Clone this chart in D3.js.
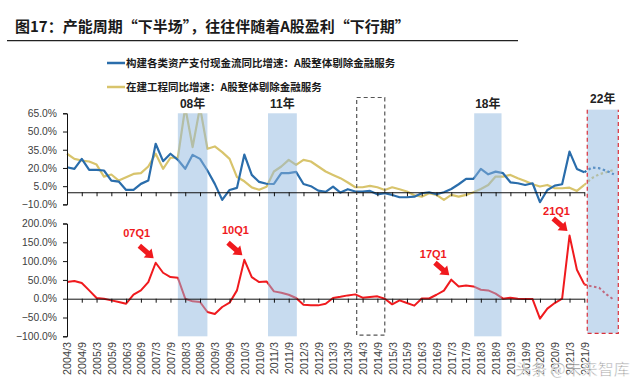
<!DOCTYPE html>
<html>
<head>
<meta charset="utf-8">
<script src="https://cdn.jsdelivr.net/npm/d3@7"></script>
<style>
  body { margin: 0; background: #fff; }
  svg { display: block; }
</style>
</head>
<body>
<div id="chart"></div>
<script>

// axis labels, one every second quarter
const tickLabels = ["2004/3","2004/9","2005/3","2005/9","2006/3","2006/9","2007/3","2007/9",
    "2008/3","2008/9","2009/3","2009/9","2010/3","2010/9","2011/3","2011/9","2012/3","2012/9",
    "2013/3","2013/9","2014/3","2014/9","2015/3","2015/9","2016/3","2016/9","2017/3","2017/9",
    "2018/3","2018/9","2019/3","2019/9","2020/3","2020/9","2021/3","2021/9"];

// quarterly series, 2004Q1 .. 2021Q3 (%)
const capexGrowth = [20.6, 19.3, 27.5, 18.4, 18.4, 17.9, 9.6, 8.8, 1.9, 1.9,
    6.9, 9.6, 39.9, 25.6, 31.7, 26.7, 19.3, 30.8, 27.5, 17.9,
    6.9, -6.3, 1.9, 3.6, 31.0, 14.3, 8.5, 7.0, 6.8, 15.7,
    15.7, 16.8, 6.8, 5.0, 1.3, 0.3, 4.7, -0.3, 2.5, 0.6,
    0.6, 1.1, -1.7, -0.8, -2.2, -4.1, -4.1, -3.6, -0.8, 0,
    -1.6, 0, 2.7, 6.6, 11.0, 11.0, 19.2, 14.8, 17.0, 15.7,
    8.2, 7.4, 6.0, 7.4, -8.2, 1.9, 5.5, 6.6, 33.5, 19.2, 16.5];

const cipGrowth = [31.7, 27.5, 26.1, 25.3, 22.8, 12.9, 14.6, 9.6, 12.4, 15.1,
    15.7, 21.2, 31.7, 19.3, 28.4, 28.4, 70, 37.2, 70, 35.8,
    37.7, 33.0, 27.5, 12.5, 9.0, 4.0, 2.0, 4.5, 17.1, 21.2,
    26.7, 22.6, 26.7, 25.3, 21.2, 17.1, 14.3, 11.6, 8.0, 4.1,
    4.1, 5.2, 4.1, 1.9, 4.1, 2.5, 0.6, -2.5, -3.6, -0.8,
    -2.2, -6.3, -2.2, -3.6, -2.2, 0, 2.7, 6.0, 12.9, 12.9,
    14.3, 11.5, 9.3, 6.6, 4.7, 6.0, 3.3, 3.3, 3.8, 1.1, 6.0];

const profitGrowth = [44.2, 46.9, 41.6, 22.1, 1.8, 0, -4.4, -8.8, -13.3, 10.6,
    22.1, 44.2, 95.6, 69.0, 57.5, 55.8, 0, -7.1, -8.8, -35.4,
    -40.7, -22.1, -10.6, 22.1, 103.5, 57.5, 44.2, 46.0, 19.5, 15.9,
    10.6, 1.8, -15.9, -17.7, -17.7, -13.3, 2.0, 5.0, 8.8, 11.5,
    2.7, 4.4, 6.2, 0, -15.0, -4.4, -11.5, -18.5, 0.5, 0.5,
    10.5, 21.5, 50.6, 32.7, 35.4, 32.7, 23.9, 22.1, 13.3, 0,
    2.7, 0, -0.9, -0.9, -53.1, -26.5, -11.5, 0, 168, 77, 38];

// forecast, 2021Q3 .. 2022Q3
const forecastQuarters = [70, 71, 72, 73, 74];
const capexForecast = [16.5, 20.3, 19.8, 17.6, 14.8];
const cipForecast = [6.0, 11.5, 14.8, 16.5, 18.4];
const profitForecast = [38, 32.7, 29.2, 11.5, -2.7];

const topTicks = [65, 50, 35, 20, 5, -10];
const bottomTicks = [200, 150, 100, 50, 0, -50, -100];

// shaded periods, in quarter index
const cycleBands = [
    {label: "08年", from: 15, to: 19},
    {label: "11年", from: 27.2, to: 31.1},
    {label: "18年", from: 55.1, to: 58.8}
];
const forecastBand = {label: "22年", from: 70.4, to: 74.6};
const dashedBox = {from: 39.2, to: 43};

const peaks = [
    {label: "07Q1", q: 12, dx: -19, dy: -30},
    {label: "10Q1", q: 24, dx: -9, dy: -30},
    {label: "17Q1", q: 52, dx: -18, dy: -26},
    {label: "21Q1", q: 68, dx: -13, dy: -24}
];

const blue = "#2a6dab", yellow = "#d8c46c", red = "#f01a1e";
const latin = "'Liberation Sans', Arial, sans-serif";
const cjk = "'Noto Sans CJK SC', sans-serif";

function main() {

    const width = 640, height = 388;

    const svg = d3.select("#chart")
        .append("svg")
        .attr("width", width)
        .attr("height", height);

    // scales
    const x = d3.scaleLinear().domain([0, 70]).range([67, 584.3]);
    const yTop = d3.scaleLinear().domain([-10, 65]).range([204.4, 113.3]);
    const yBot = d3.scaleLinear().domain([-100, 200]).range([336.3, 223.5]);

    // title
    svg.append("text")
        .attr("x", 15)
        .attr("y", 32)
        .attr("font-family", cjk)
        .attr("font-size", "15px")
        .attr("font-weight", "bold")
        .attr("fill", "#1a1a1a")
        .text("图17：产能周期“下半场”，往往伴随着A股盈利“下行期”");

    svg.append("line")
        .attr("x1", 7).attr("x2", 518)
        .attr("y1", 40.7).attr("y2", 40.7)
        .attr("stroke", "#222")
        .attr("stroke-width", 1.3);

    // legend
    const legend = [
        {color: blue, text: "构建各类资产支付现金流同比增速：A股整体剔除金融服务", y: 63},
        {color: yellow, text: "在建工程同比增速：A股整体剔除金融服务", y: 87}
    ];
    legend.forEach(function(d) {
        svg.append("line")
            .attr("x1", 107).attr("x2", 125)
            .attr("y1", d.y).attr("y2", d.y)
            .attr("stroke", d.color)
            .attr("stroke-width", 2.5);
        svg.append("text")
            .attr("x", 126)
            .attr("y", d.y)
            .attr("dy", "0.36em")
            .attr("font-family", cjk)
            .attr("font-size", "10.5px")
            .attr("font-weight", "bold")
            .attr("fill", "#1a1a1a")
            .text(d.text);
    });

    // clip for the upper panel (cip goes off the top in 2008)
    svg.append("clipPath")
        .attr("id", "topclip")
        .append("rect")
        .attr("x", 60).attr("width", 570)
        .attr("y", yTop(65)).attr("height", yTop(-10) - yTop(65));

    const top = svg.append("g").attr("clip-path", "url(#topclip)");

    const lineTop = d3.line().x((d, i) => x(i)).y(d => yTop(d));
    const lineBot = d3.line().x((d, i) => x(i)).y(d => yBot(d));
    const fcTop = d3.line().x((d, i) => x(forecastQuarters[i])).y(d => yTop(d));
    const fcBot = d3.line().x((d, i) => x(forecastQuarters[i])).y(d => yBot(d));

    top.append("path")
        .datum(cipGrowth)
        .attr("fill", "none")
        .attr("stroke", yellow)
        .attr("stroke-width", 2.2)
        .attr("stroke-linejoin", "round")
        .attr("d", lineTop);

    top.append("path")
        .datum(capexGrowth)
        .attr("fill", "none")
        .attr("stroke", blue)
        .attr("stroke-width", 2.2)
        .attr("stroke-linejoin", "round")
        .attr("d", lineTop);

    top.append("path")
        .datum(cipForecast)
        .attr("fill", "none")
        .attr("stroke", yellow)
        .attr("stroke-width", 2.2)
        .attr("stroke-dasharray", "2.5,2.5")
        .attr("d", fcTop);

    top.append("path")
        .datum(capexForecast)
        .attr("fill", "none")
        .attr("stroke", blue)
        .attr("stroke-width", 2.2)
        .attr("stroke-dasharray", "2.5,2.5")
        .attr("d", fcTop);

    svg.append("path")
        .datum(profitGrowth)
        .attr("fill", "none")
        .attr("stroke", red)
        .attr("stroke-width", 2)
        .attr("stroke-linejoin", "round")
        .attr("d", lineBot);

    svg.append("path")
        .datum(profitForecast)
        .attr("fill", "none")
        .attr("stroke", red)
        .attr("stroke-width", 2)
        .attr("stroke-dasharray", "2.5,2.5")
        .attr("d", fcBot);

    // shaded periods drawn over the lines, half transparent
    svg.selectAll(".band")
        .data(cycleBands)
        .join("rect")
        .attr("class", "band")
        .attr("x", d => x(d.from))
        .attr("width", d => x(d.to) - x(d.from))
        .attr("y", yTop(65))
        .attr("height", yBot(-100) - yTop(65))
        .attr("fill", "#8fb8e0")
        .attr("fill-opacity", 0.5);

    svg.selectAll(".bandlabel")
        .data(cycleBands)
        .join("text")
        .attr("class", "bandlabel")
        .attr("x", d => (x(d.from) + x(d.to)) / 2)
        .attr("y", yTop(65) - 10)
        .attr("dy", "0.36em")
        .attr("text-anchor", "middle")
        .attr("font-family", latin + ", 'Noto Sans CJK SC'")
        .attr("font-size", "12px")
        .attr("font-weight", "bold")
        .attr("fill", "#222")
        .text(d => d.label);

    // forecast year
    const fx0 = x(forecastBand.from), fx1 = x(forecastBand.to);
    const fy0 = yTop(68), fy1 = yBot(-92);
    svg.append("rect")
        .attr("x", fx0).attr("width", fx1 - fx0)
        .attr("y", fy0).attr("height", fy1 - fy0)
        .attr("fill", "#8fb8e0")
        .attr("fill-opacity", 0.5);
    svg.append("path")
        .attr("d", `M${fx0},${fy0}V${fy1}H${fx1}V${fy0}`)
        .attr("fill", "none")
        .attr("stroke", "#d9303a")
        .attr("stroke-width", 1.2)
        .attr("stroke-dasharray", "4,3");
    svg.append("text")
        .attr("x", (fx0 + fx1) / 2)
        .attr("y", fy0 - 11)
        .attr("dy", "0.36em")
        .attr("text-anchor", "middle")
        .attr("font-family", latin + ", 'Noto Sans CJK SC'")
        .attr("font-size", "12px")
        .attr("font-weight", "bold")
        .attr("fill", "#222")
        .text(forecastBand.label);

    // 2014 dashed box
    svg.append("rect")
        .attr("x", x(dashedBox.from))
        .attr("width", x(dashedBox.to) - x(dashedBox.from))
        .attr("y", yTop(78))
        .attr("height", yBot(-97) - yTop(78))
        .attr("fill", "none")
        .attr("stroke", "#555")
        .attr("stroke-width", 1.2)
        .attr("stroke-dasharray", "4,3");

    // axes
    const evenQuarters = d3.range(0, 71, 2);

    function styleAxis(g) {
        g.selectAll("path, line").attr("stroke", "#111").attr("stroke-width", 1);
        g.selectAll("text")
            .attr("font-family", latin)
            .attr("font-size", "10.3px")
            .attr("fill", "#404040");
    }

    svg.append("g")
        .attr("transform", `translate(0,${yTop(0)})`)
        .call(d3.axisBottom(x).tickValues(evenQuarters).tickSize(4).tickSizeOuter(0).tickFormat(""))
        .call(styleAxis);

    svg.append("g")
        .attr("transform", `translate(0,${yBot(0)})`)
        .call(d3.axisBottom(x).tickValues(evenQuarters).tickSize(4).tickSizeOuter(0).tickFormat(""))
        .call(styleAxis);

    svg.append("g")
        .attr("transform", `translate(${x(0)},0)`)
        .call(d3.axisLeft(yTop).tickValues(topTicks).tickSize(4).tickPadding(6)
            .tickFormat(d => d3.format(".1f")(d) + "%"))
        .call(styleAxis);

    svg.append("g")
        .attr("transform", `translate(${x(0)},0)`)
        .call(d3.axisLeft(yBot).tickValues(bottomTicks).tickSize(4).tickPadding(6)
            .tickFormat(d => d3.format(".1f")(d) + "%"))
        .call(styleAxis);

    // rotated quarter labels under the chart
    const labels = svg.append("g")
        .attr("transform", "translate(0,340)")
        .call(d3.axisBottom(x).tickValues(evenQuarters).tickSize(0)
            .tickFormat((d, i) => tickLabels[i]));
    labels.select(".domain").remove();
    labels.call(styleAxis);
    labels.selectAll("text")
        .attr("font-size", "10.8px")
        .attr("transform", "rotate(-90)")
        .attr("x", -2)
        .attr("y", 0)
        .attr("dy", "0.36em")
        .attr("text-anchor", "end");

    // peak call-outs with block arrows
    const arrow = "M0,0L-8,-6L-8,-2.6L-19,-2.6L-19,2.6L-8,2.6L-8,6Z";
    peaks.forEach(function(p) {
        const px = x(p.q), py = yBot(profitGrowth[p.q]);
        svg.append("path")
            .attr("d", arrow)
            .attr("fill", red)
            .attr("transform", `translate(${px - 2},${py - 4.5}) rotate(41)`);
        svg.append("text")
            .attr("x", px + p.dx)
            .attr("y", py + p.dy)
            .attr("dy", "0.36em")
            .attr("text-anchor", "middle")
            .attr("font-family", latin)
            .attr("font-size", "11px")
            .attr("font-weight", "bold")
            .attr("fill", red)
            .text(p.label);
    });

    // watermark
    svg.append("text")
        .attr("x", 515)
        .attr("y", 369)
        .attr("dy", "0.36em")
        .attr("font-family", cjk)
        .attr("font-size", "16px")
        .attr("fill", "#666")
        .attr("fill-opacity", 0.8)
        .attr("stroke", "#fff")
        .attr("stroke-width", 0.6)
        .text("头条 @未来智库");
}

main()
</script>
</body>
</html>
